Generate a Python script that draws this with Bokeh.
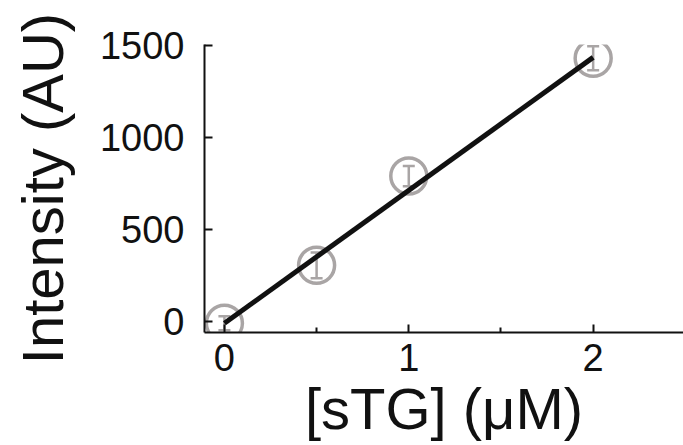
from bokeh.plotting import figure
from bokeh.models import ColumnDataSource, Whisker, TeeHead, FixedTicker, Range1d
from bokeh.embed import file_html
from bokeh.resources import INLINE

# data
conc = [0.0, 0.5, 1.0, 2.0]
intensity = [-10, 305, 790, 1430]
err = [38, 70, 55, 65]
fit_x = [0.0, 2.0]
fit_y = [-10, 1435]
x_major_ticks = [0, 1, 2]
x_minor_ticks = [0.5, 1.5]
y_ticks = [0, 500, 1000, 1500]

p = figure(width=683, height=445, output_backend="svg", toolbar_location=None,
           x_range=Range1d(-0.108, 2.49), y_range=Range1d(-60, 1505),
           min_border_left=204, min_border_right=0, min_border_top=44, min_border_bottom=113)
p.outline_line_color = None
p.xgrid.visible = False
p.ygrid.visible = False
p.background_fill_color = "white"
p.border_fill_color = "white"

src = ColumnDataSource(dict(x=conc, y=intensity,
                            lo=[v - e for v, e in zip(intensity, err)],
                            hi=[v + e for v, e in zip(intensity, err)]))

gray = "#a9a5a5"
w = Whisker(source=src, base="x", lower="lo", upper="hi", line_color=gray, line_width=2.5,
            upper_head=TeeHead(size=12, line_color=gray, line_width=2.5),
            lower_head=TeeHead(size=12, line_color=gray, line_width=2.5))
p.add_layout(w)
p.scatter("x", "y", source=src, size=36, fill_color=None, line_color=gray, line_width=3.5)
p.line(fit_x, fit_y, line_color="#111111", line_width=5)

font = "Liberation Sans"
p.xaxis.ticker = FixedTicker(ticks=x_major_ticks, minor_ticks=x_minor_ticks)
p.yaxis.ticker = FixedTicker(ticks=y_ticks)
for ax in (p.xaxis[0], p.yaxis[0]):
    ax.axis_line_width = 2
    ax.axis_line_color = "#111111"
    ax.major_tick_in = 8
    ax.major_tick_out = 0
    ax.major_tick_line_width = 2
    ax.major_tick_line_color = "#111111"
    ax.minor_tick_in = 5
    ax.minor_tick_out = 0
    ax.minor_tick_line_width = 2
    ax.minor_tick_line_color = "#111111"
    ax.major_label_text_font = font
    ax.major_label_text_font_size = "38px"
    ax.major_label_text_color = "#111111"
    ax.axis_label_text_font = font
    ax.axis_label_text_font_size = "58px"
    ax.axis_label_text_font_style = "normal"
    ax.axis_label_text_color = "#111111"
p.yaxis.minor_tick_line_color = None
p.xaxis.axis_label = "[sTG] (\u03bcM)"
p.yaxis.axis_label = "Intensity (AU)"
p.xaxis.major_label_standoff = 11
p.yaxis.major_label_standoff = 20
p.xaxis.axis_label_standoff = 2
p.yaxis.axis_label_standoff = 22

open("out.html", "w").write(file_html(p, INLINE))
